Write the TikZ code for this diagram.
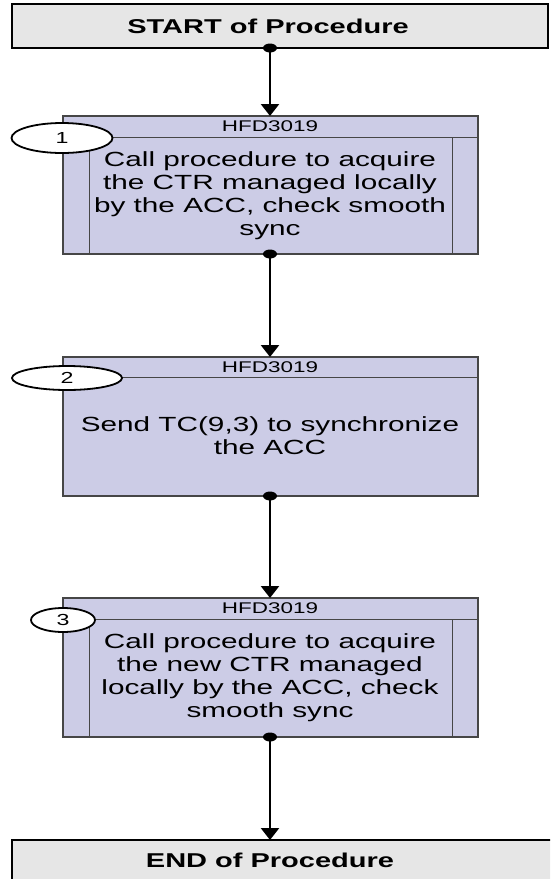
\documentclass[tikz,border=0pt]{standalone}
\usepackage{fontspec}
\setmainfont{Liberation Sans}[FakeStretch=1.45]
\usetikzlibrary{arrows.meta,shapes.geometric}
\definecolor{stepfill}{RGB}{204,204,230}
\definecolor{termfill}{RGB}{230,230,230}
\definecolor{stepline}{RGB}{70,70,70}
\tikzset{
  termbox/.style={draw=black,line width=1.8pt,fill=termfill},
  stepbox/.style={draw=stepline,line width=1.2pt,fill=stepfill},
  rule/.style={draw=stepline,line width=1pt},
  termtext/.style={font=\fontsize{20}{23}\selectfont\bfseries,inner sep=0pt},
  bodytext/.style={font=\fontsize{20.5}{23}\selectfont,align=center,inner sep=0pt},
  reqtext/.style={font=\fontsize{15.5}{17}\selectfont,inner sep=0pt},
  numoval/.style={ellipse,draw=black,line width=1.8pt,fill=white,inner sep=0pt,
    font=\fontsize{16}{18}\selectfont},
  flow/.style={line width=2.4pt,-{Triangle[width=18pt,length=12pt]}},
}
\newcommand{\flowdot}[1]{\fill (#1) ellipse [x radius=7pt, y radius=4.5pt];}
\begin{document}
\begin{tikzpicture}[x=1pt,y=-1pt]
\useasboundingbox (0,0) rectangle (550,879);
\begin{scope}
\clip (0,0) rectangle (550,879);

% start terminal
\path[termbox] (12,4) rectangle (548,48);
\coordinate (start) at (270,48);
\node[termtext] (startlbl) at (268,26) {START of Procedure};

% step 1
\path[stepbox] (63,116) rectangle (478,254);
\draw[rule] (63,137) -- (478,137);
\draw[rule] (89,137) -- (89,254);
\draw[rule] (452,137) -- (452,254);
\coordinate (s1top) at (270,116);
\coordinate (s1bot) at (270,254);
\node[reqtext] (s1req) at (270,126.5) {HFD3019};
\node[bodytext] (s1txt) at (270,195.5) {Call procedure to acquire\\the CTR managed locally\\by the ACC, check smooth\\sync};
\node[numoval,minimum width=101pt,minimum height=30pt] (n1) at (62,138) {1};

% step 2
\path[stepbox] (63,357) rectangle (478,496);
\draw[rule] (63,377) -- (478,377);
\coordinate (s2top) at (270,357);
\coordinate (s2bot) at (270,496);
\node[reqtext] (s2req) at (270,367) {HFD3019};
\node[bodytext] (s2txt) at (270,436) {Send TC(9,3) to synchronize\\the ACC};
\node[numoval,minimum width=110pt,minimum height=24pt] (n2) at (67,378) {2};

% step 3
\path[stepbox] (63,598) rectangle (478,737);
\draw[rule] (63,619) -- (478,619);
\draw[rule] (89,619) -- (89,737);
\draw[rule] (452,619) -- (452,737);
\coordinate (s3top) at (270,598);
\coordinate (s3bot) at (270,737);
\node[reqtext] (s3req) at (270,608.5) {HFD3019};
\node[bodytext] (s3txt) at (270,677.5) {Call procedure to acquire\\the new CTR managed\\locally by the ACC, check\\smooth sync};
\node[numoval,minimum width=64pt,minimum height=24pt] (n3) at (63,620) {3};

% end terminal
\path[termbox] (12,840) rectangle (560,900);
\coordinate (finish) at (270,840);
\node[termtext] (endlbl) at (270,860) {END of Procedure};

% connectors
\draw[flow] (start) -- (s1top);
\draw[flow] (s1bot) -- (s2top);
\draw[flow] (s2bot) -- (s3top);
\draw[flow] (s3bot) -- (finish);
\flowdot{start}
\flowdot{s1bot}
\flowdot{s2bot}
\flowdot{s3bot}
\end{scope}
\end{tikzpicture}
\end{document}
